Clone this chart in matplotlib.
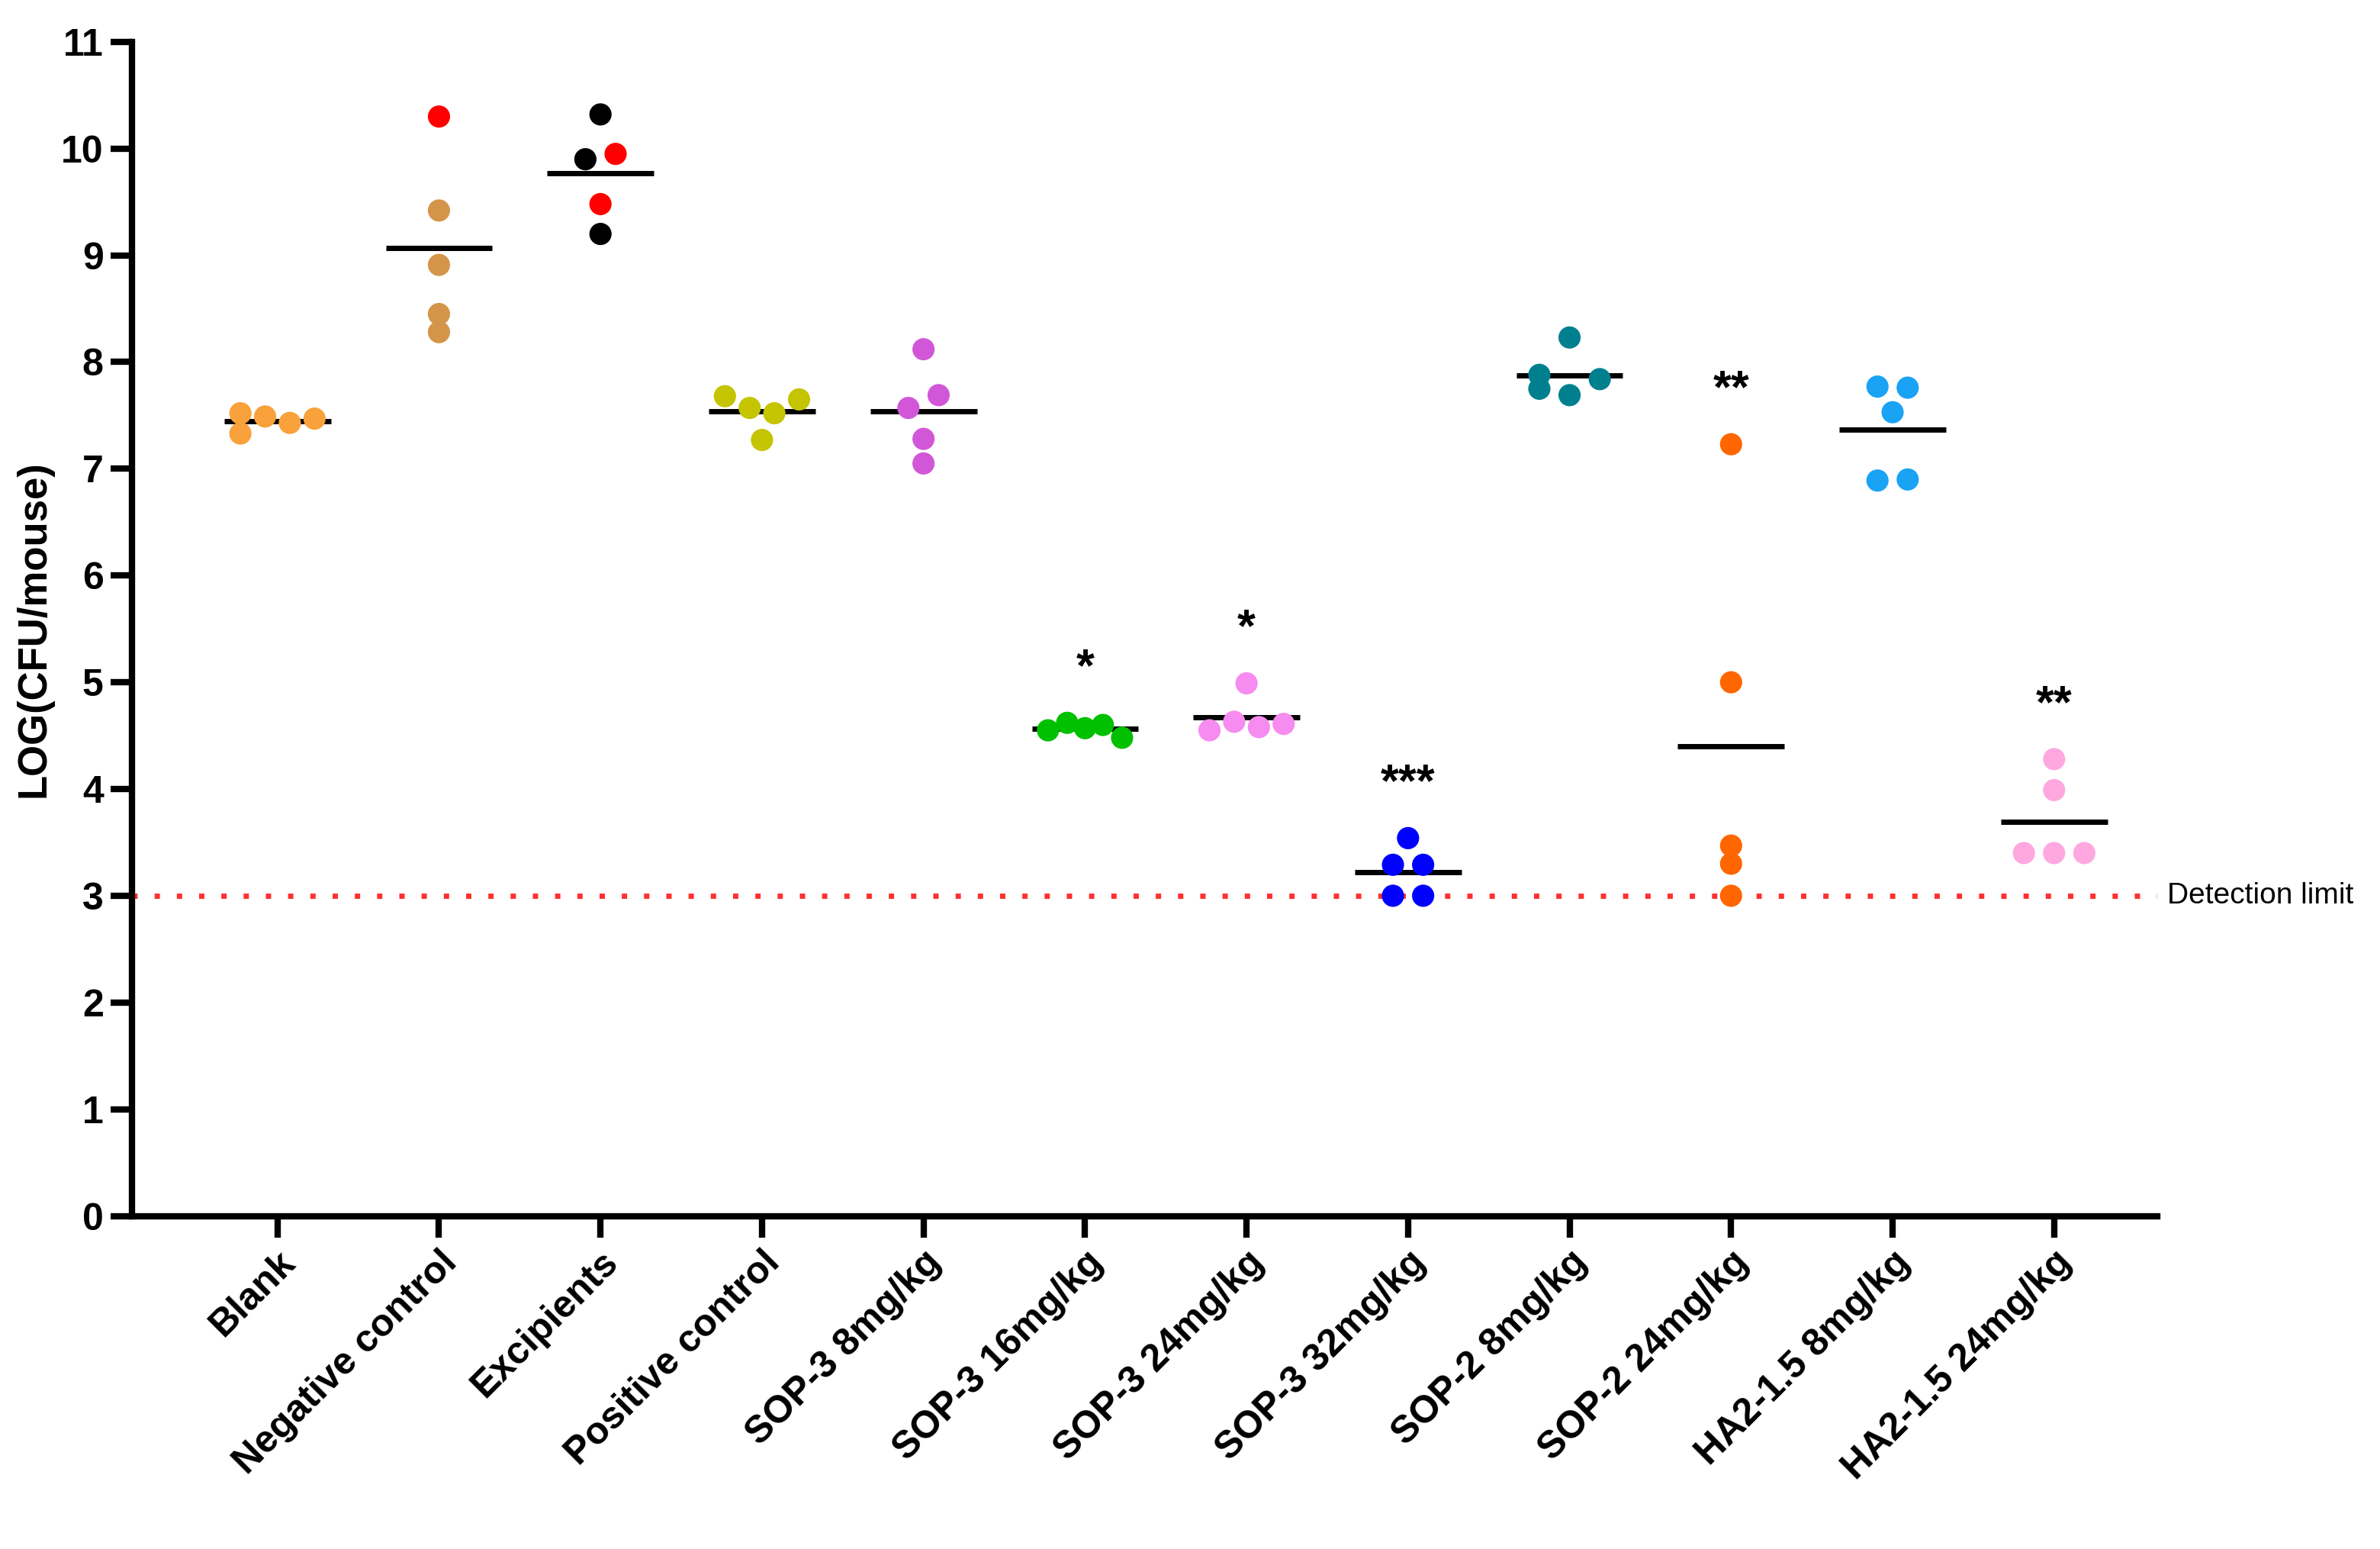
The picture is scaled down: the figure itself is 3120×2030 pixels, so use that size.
import matplotlib
matplotlib.use("Agg")
import matplotlib.pyplot as plt
import numpy as np

plt.rcParams["font.family"] = "Liberation Sans"

categories = ["Blank", "Negative control", "Excipients", "Positive control", "SOP-3 8mg/kg",
              "SOP-3 16mg/kg", "SOP-3 24mg/kg", "SOP-3 32mg/kg", "SOP-2 8mg/kg",
              "SOP-2 24mg/kg", "HA2-1.5 8mg/kg", "HA2-1.5 24mg/kg"]
values = [
    [7.52, 7.33, 7.49, 7.43, 7.47],
    [10.30, 9.42, 8.91, 8.45, 8.28],
    [10.32, 9.90, 9.95, 9.48, 9.20],
    [7.68, 7.57, 7.27, 7.52, 7.65],
    [8.12, 7.69, 7.57, 7.28, 7.05],
    [4.55, 4.62, 4.57, 4.60, 4.48],
    [4.99, 4.55, 4.63, 4.58, 4.61],
    [3.54, 3.29, 3.29, 3.00, 3.00],
    [8.23, 7.88, 7.69, 7.84, 7.75],
    [7.23, 5.00, 3.47, 3.30, 3.00],
    [7.77, 7.76, 7.53, 6.89, 6.90],
    [4.28, 3.99, 3.40, 3.40, 3.40],
]
offsets = [
    [-0.27, -0.27, -0.09, 0.09, 0.27],
    [0, 0, 0, 0, 0],
    [0, -0.11, 0.11, 0, 0],
    [-0.27, -0.09, 0, 0.09, 0.27],
    [0, 0.11, -0.11, 0, 0],
    [-0.27, -0.13, 0, 0.13, 0.27],
    [0, -0.27, -0.09, 0.09, 0.27],
    [0, -0.11, 0.11, -0.11, 0.11],
    [0, -0.22, 0, 0.22, -0.22],
    [0, 0, 0, 0, 0],
    [-0.11, 0.11, 0, -0.11, 0.11],
    [0, 0, -0.22, 0, 0.22],
]
colors = [
    ["#F9A13A"] * 5,
    ["#FF0000", "#D4954A", "#D4954A", "#D4954A", "#D4954A"],
    ["#000000", "#000000", "#FF0000", "#FF0000", "#000000"],
    ["#C4C400"] * 5,
    ["#D257D8"] * 5,
    ["#00C000"] * 5,
    ["#F68BF0"] * 5,
    ["#0000FF"] * 5,
    ["#00808F"] * 5,
    ["#FF6600"] * 5,
    ["#1AA3F5"] * 5,
    ["#FFA8E0"] * 5,
]
significance = ["", "", "", "", "", "*", "*", "***", "", "**", "", "**"]
detection_limit = 3.0

fig = plt.figure(figsize=(15.6, 10.15), dpi=200)
ax = fig.add_axes([0.0555, 0.215, 0.851, 0.758])

for i, (vals, offs, cols) in enumerate(zip(values, offsets, colors)):
    ax.scatter(np.array(offs) * 0.85 + i, vals, s=110, c=cols, zorder=3, linewidths=0)
    m = np.mean(vals)
    ax.hlines(m, i - 0.33, i + 0.33, color="black", lw=2.5, zorder=2)
    if significance[i]:
        top = max(vals)
        ax.text(i, top + 0.3, significance[i], ha="center", va="bottom",
                fontsize=22, fontweight="bold")

ax.axhline(detection_limit, color="#FF3030", ls=(0, (1, 3.2)), lw=2.5, zorder=1)
ax.text(11.7, detection_limit, "Detection limit", va="center", ha="left", fontsize=14)

ax.set_xlim(-0.9, 11.64)
ax.set_ylim(0, 11)
ax.set_yticks(range(0, 12))
ax.set_xticks(range(len(categories)))
ax.set_xticklabels(categories, rotation=45, ha="right", rotation_mode="anchor",
                   fontsize=18, fontweight="bold")
for lab in ax.get_yticklabels():
    lab.set_fontweight("bold")
    lab.set_fontsize(18)
ax.set_ylabel("LOG(CFU/mouse)", fontsize=19, fontweight="bold")
for s in ["top", "right"]:
    ax.spines[s].set_visible(False)
for s in ["left", "bottom"]:
    ax.spines[s].set_linewidth(3)
ax.tick_params(width=3, length=10)

fig.savefig("out.png", dpi=200)
